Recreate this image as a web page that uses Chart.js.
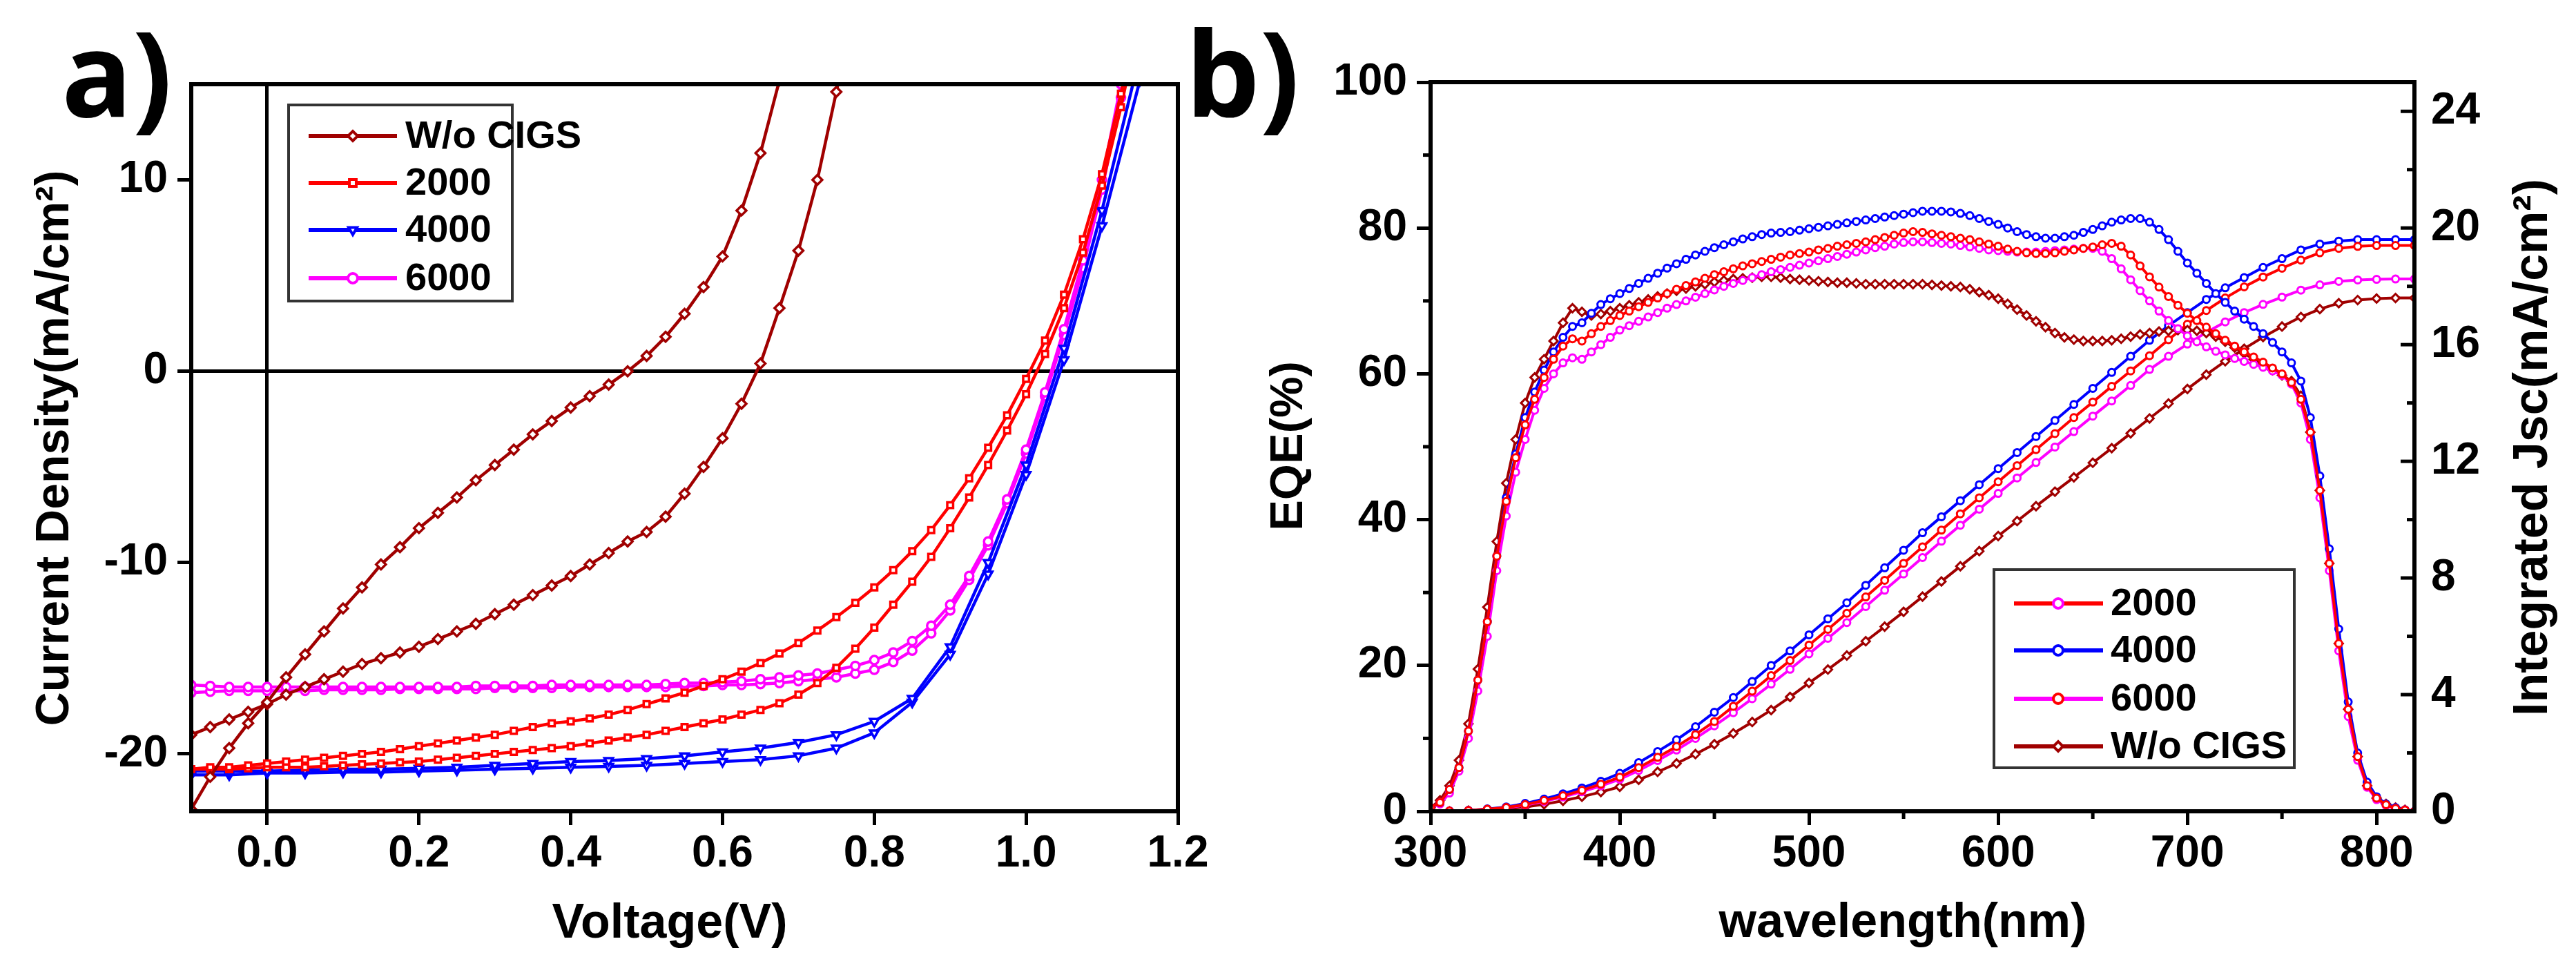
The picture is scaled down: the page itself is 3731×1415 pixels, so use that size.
<!DOCTYPE html>
<html>
<head>
<meta charset="utf-8">
<script src="https://cdn.jsdelivr.net/npm/chart.js@4.4.1/dist/chart.umd.min.js"></script>
<style>
  html, body { margin: 0; padding: 0; background: #fff; }
  #wrap { position: relative; width: 3731px; height: 1415px; overflow: hidden; background: #fff; }
  #chartA { position: absolute; left: 0; top: 0; }
  #chartB { position: absolute; left: 1700px; top: 0; }
</style>
</head>
<body>
<div id="wrap">
  <canvas id="chartA" width="1800" height="1415"></canvas>
  <canvas id="chartB" width="2031" height="1415"></canvas>
</div>
<script>
// ---------- a) J-V curves ----------
const vFine = [-0.1, -0.075, -0.05, -0.025, 0, 0.025, 0.05, 0.075, 0.1, 0.125, 0.15, 0.175, 0.2, 0.225, 0.25, 0.275,
  0.3, 0.325, 0.35, 0.375, 0.4, 0.425, 0.45, 0.475, 0.5, 0.525, 0.55, 0.575, 0.6, 0.625, 0.65, 0.675, 0.7, 0.725,
  0.75, 0.775, 0.8, 0.825, 0.85, 0.875, 0.9, 0.925, 0.95, 0.975, 1.0, 1.025, 1.05, 1.075, 1.1, 1.125, 1.15];
const vCoarse = [-0.1, -0.05, 0, 0.05, 0.1, 0.15, 0.2, 0.25, 0.3, 0.35, 0.4, 0.45, 0.5, 0.55, 0.6, 0.65, 0.7,
  0.75, 0.8, 0.85, 0.9, 0.95, 1.0, 1.05, 1.1, 1.15];

const jWoA = [-22.9, -21.2, -19.7, -18.4, -17.3, -16.0, -14.8, -13.6, -12.4, -11.3, -10.1, -9.2, -8.2, -7.4, -6.6, -5.7,
  -4.9, -4.1, -3.3, -2.6, -1.9, -1.3, -0.7, 0.0, 0.8, 1.8, 3.0, 4.4, 6.0, 8.4, 11.4, 15.2];
const jWoB = [-19.0, -18.6, -18.2, -17.8, -17.4, -16.9, -16.5, -16.1, -15.7, -15.3, -15.0, -14.7, -14.4, -14.0, -13.6, -13.2,
  -12.7, -12.2, -11.7, -11.2, -10.7, -10.1, -9.5, -8.9, -8.4, -7.6, -6.4, -5.0, -3.5, -1.7, 0.4, 3.3, 6.3, 10.0, 14.6, 19.5];
const j2000A = [-20.8, -20.7, -20.7, -20.6, -20.5, -20.4, -20.3, -20.2, -20.1, -20.0, -19.9, -19.75, -19.6, -19.45, -19.3, -19.15,
  -19.0, -18.8, -18.6, -18.4, -18.3, -18.15, -17.95, -17.7, -17.4, -17.1, -16.8, -16.45, -16.1, -15.7, -15.25, -14.75,
  -14.2, -13.55, -12.85, -12.1, -11.3, -10.4, -9.4, -8.3, -7.0, -5.6, -4.0, -2.3, -0.4, 1.6, 4.0, 6.9, 10.3, 14.5, 19.5];
const j2000B = [-20.8, -20.8, -20.8, -20.75, -20.7, -20.7, -20.7, -20.65, -20.6, -20.55, -20.5, -20.45, -20.4, -20.3, -20.2, -20.1,
  -20.0, -19.9, -19.8, -19.7, -19.6, -19.45, -19.3, -19.15, -19.0, -18.8, -18.6, -18.4, -18.2, -17.95, -17.7, -17.35,
  -16.9, -16.3, -15.5, -14.5, -13.4, -12.2, -11.0, -9.7, -8.2, -6.6, -4.9, -3.1, -1.2, 0.9, 3.3, 6.2, 9.7, 13.8, 18.5];
const j4000A = [-20.9, -20.9, -20.9, -20.85, -20.8, -20.8, -20.75, -20.7, -20.6, -20.5, -20.4, -20.35, -20.25, -20.1, -19.9,
  -19.7, -19.4, -19.0, -18.3, -17.1, -14.4, -10.0, -4.9, 1.2, 8.4, 16.5];
const j4000B = [-21.1, -21.1, -21.0, -21.0, -20.95, -20.95, -20.9, -20.85, -20.8, -20.75, -20.7, -20.65, -20.6, -20.5, -20.4,
  -20.3, -20.1, -19.7, -18.9, -17.3, -14.8, -10.6, -5.4, 0.6, 7.6, 15.2];
const j6000A = [-16.4, -16.45, -16.5, -16.5, -16.5, -16.5, -16.5, -16.5, -16.5, -16.5, -16.5, -16.5, -16.5, -16.5, -16.5, -16.45,
  -16.45, -16.45, -16.45, -16.4, -16.4, -16.4, -16.4, -16.4, -16.4, -16.35, -16.3, -16.3, -16.25, -16.2, -16.1, -16.0,
  -15.9, -15.8, -15.6, -15.4, -15.1, -14.7, -14.1, -13.3, -12.2, -10.7, -8.9, -6.7, -4.1, -1.1, 2.2, 5.8, 10.0, 15.0, 20.5];
const j6000B = [-16.8, -16.75, -16.7, -16.7, -16.7, -16.7, -16.7, -16.65, -16.65, -16.65, -16.65, -16.6, -16.6, -16.6, -16.6, -16.6,
  -16.55, -16.55, -16.55, -16.55, -16.5, -16.5, -16.5, -16.5, -16.5, -16.5, -16.45, -16.45, -16.4, -16.4, -16.35, -16.3,
  -16.2, -16.1, -16.0, -15.8, -15.6, -15.2, -14.6, -13.7, -12.5, -10.9, -9.1, -6.9, -4.3, -1.3, 1.9, 5.4, 9.5, 14.3, 19.8];

const vTicks = [0, 0.2, 0.4, 0.6, 0.8, 1.0, 1.2];
const jTicks = [-20, -10, 0, 10];

// ---------- b) EQE + integrated Jsc ----------
const wl5 = [300, 305, 310, 315, 320, 325, 330, 335, 340, 345, 350, 355, 360, 365, 370, 375, 380, 385, 390, 395,
  400, 405, 410, 415, 420, 425, 430, 435, 440, 445, 450, 455, 460, 465, 470, 475, 480, 485, 490, 495,
  500, 505, 510, 515, 520, 525, 530, 535, 540, 545, 550, 555, 560, 565, 570, 575, 580, 585, 590, 595,
  600, 605, 610, 615, 620, 625, 630, 635, 640, 645, 650, 655, 660, 665, 670, 675, 680, 685, 690, 695,
  700, 705, 710, 715, 720, 725, 730, 735, 740, 745, 750, 755, 760, 765, 770, 775, 780, 785, 790, 795,
  800, 805, 810, 815, 820];
const wl10 = [300, 310, 320, 330, 340, 350, 360, 370, 380, 390, 400, 410, 420, 430, 440, 450, 460, 470, 480, 490,
  500, 510, 520, 530, 540, 550, 560, 570, 580, 590, 600, 610, 620, 630, 640, 650, 660, 670, 680, 690,
  700, 710, 720, 730, 740, 750, 760, 770, 780, 790, 800, 810, 820];

const eqe2000 = [0.5, 1.2, 3, 6, 11, 18, 26, 35, 42.5, 48.5, 53, 56.5, 59.5, 62, 63.8, 64.8, 64.5, 65.5, 66.5, 67.3,
  68, 68.6, 69.2, 69.8, 70.4, 71.0, 71.6, 72.1, 72.6, 73.1, 73.6, 74.0, 74.4, 74.8, 75.1, 75.4, 75.7, 76.0, 76.3, 76.5,
  76.7, 77.0, 77.2, 77.5, 77.7, 77.9, 78.1, 78.4, 78.7, 79.0, 79.3, 79.5, 79.4, 79.2, 79.0, 78.8, 78.6, 78.4, 78.1, 77.8,
  77.5, 77.1, 76.8, 76.6, 76.5, 76.5, 76.6, 76.8, 77.0, 77.2, 77.4, 77.7, 77.9, 77.5, 76.3, 74.8, 73.3, 71.9, 70.6, 69.4,
  68.3, 67.3, 66.4, 65.5, 64.6, 63.8, 63.0, 62.3, 61.6, 60.8, 60.0, 58.8, 56.5, 52, 44, 34, 23, 14, 7.5, 3.5,
  1.8, 0.9, 0.4, 0.2, 0];
const eqe4000 = [0.5, 1.2, 3, 6, 11, 18, 26, 35, 43, 49, 54, 57.5, 60.5, 63, 65, 66.5, 67, 68.3, 69.5, 70.3,
  71, 71.7, 72.4, 73.1, 73.8, 74.5, 75.1, 75.7, 76.3, 76.8, 77.3, 77.7, 78.1, 78.5, 78.8, 79.1, 79.3, 79.4, 79.5, 79.7,
  79.9, 80.1, 80.3, 80.5, 80.7, 80.9, 81.1, 81.3, 81.5, 81.7, 81.9, 82.1, 82.3, 82.3, 82.3, 82.2, 82.0, 81.7, 81.3, 80.9,
  80.5, 80.0, 79.5, 79.1, 78.8, 78.6, 78.6, 78.8, 79.0, 79.4, 79.8, 80.3, 80.8, 81.1, 81.3, 81.3, 80.8, 79.8, 78.4, 76.8,
  75.2, 73.8, 72.4, 71.0, 69.8, 68.6, 67.5, 66.5, 65.5, 64.3, 63.0, 61.5, 59.0, 54, 46, 36, 25, 15, 8, 4,
  2, 1, 0.5, 0.2, 0];
const eqe6000 = [0.5, 1.0, 2.5, 5.5, 10, 16.5, 24, 33, 40.5, 46.5, 51, 55, 58, 60, 61.5, 62.2, 62, 63, 64, 65,
  66, 66.6, 67.2, 67.8, 68.4, 69.0, 69.5, 70.0, 70.5, 71.0, 71.5, 72.0, 72.4, 72.8, 73.2, 73.6, 74.0, 74.3, 74.6, 74.9,
  75.2, 75.5, 75.8, 76.1, 76.4, 76.7, 77.0, 77.3, 77.5, 77.8, 78.0, 78.1, 78.1, 78.0, 77.9, 77.8, 77.6, 77.4, 77.2, 77.0,
  76.9, 76.8, 76.7, 76.7, 76.7, 76.8, 76.9, 77.0, 77.1, 77.2, 77.2, 76.8, 75.8, 74.4, 72.9, 71.4, 70.0, 68.6, 67.3, 66.2,
  65.2, 64.4, 63.7, 63.1, 62.6, 62.1, 61.7, 61.3, 60.9, 60.4, 59.8, 58.6, 56, 51, 43, 33, 22, 13, 7, 3.3,
  1.6, 0.8, 0.4, 0.2, 0];
const eqeWo = [0.5, 1.5, 3.5, 7, 12, 19.5, 28, 37, 45, 51, 56, 59.5, 62, 64.5, 67, 69, 68.5, 68, 68.2, 68.6,
  69, 69.4, 69.8, 70.2, 70.6, 71.0, 71.4, 71.7, 72.0, 72.3, 72.6, 72.8, 73.0, 73.1, 73.2, 73.3, 73.3, 73.2, 73.0, 72.9,
  72.8, 72.7, 72.6, 72.5, 72.5, 72.4, 72.3, 72.3, 72.3, 72.3, 72.3, 72.3, 72.3, 72.2, 72.1, 72.0, 71.9, 71.6, 71.2, 70.8,
  70.3, 69.6, 68.8, 68.0, 67.2, 66.4, 65.6, 65.0, 64.7, 64.5, 64.5, 64.5, 64.6, 64.8, 65.1, 65.4, 65.6, 65.8, 65.9, 66.0,
  66.0, 65.9, 65.6, 65.1, 64.4, 63.6, 62.8, 62.0, 61.2, 60.5, 59.8, 59.0, 57, 52, 44, 34, 23, 14, 7.5, 3.5,
  1.8, 1.0, 0.5, 0.2, 0];

const jsc2000 = [0, 0.01, 0.03, 0.07, 0.13, 0.23, 0.37, 0.53, 0.72, 0.93,
  1.17, 1.5, 1.85, 2.22, 2.63, 3.08, 3.6, 4.12, 4.65, 5.17,
  5.7, 6.24, 6.79, 7.35, 7.92, 8.5, 9.07, 9.64, 10.2, 10.75,
  11.3, 11.85, 12.4, 12.95, 13.5, 14.03, 14.57, 15.1, 15.62, 16.17,
  16.7, 17.17, 17.6, 17.98, 18.32, 18.62, 18.9, 19.15, 19.3, 19.37,
  19.4, 19.4, 19.4];
const jsc4000 = [0, 0.01, 0.03, 0.08, 0.15, 0.27, 0.42, 0.6, 0.8, 1.03,
  1.3, 1.67, 2.05, 2.45, 2.9, 3.4, 3.9, 4.45, 5.0, 5.5,
  6.05, 6.6, 7.15, 7.75, 8.35, 8.95, 9.55, 10.1, 10.65, 11.2,
  11.75, 12.3, 12.85, 13.4, 13.95, 14.5, 15.05, 15.6, 16.15, 16.65,
  17.1, 17.55, 17.95, 18.3, 18.65, 18.95, 19.25, 19.45, 19.55, 19.6,
  19.6, 19.6, 19.6];
const jsc6000 = [0, 0.01, 0.03, 0.06, 0.12, 0.21, 0.34, 0.49, 0.67, 0.87,
  1.1, 1.4, 1.74, 2.1, 2.5, 2.93, 3.38, 3.86, 4.36, 4.87,
  5.4, 5.93, 6.47, 7.02, 7.58, 8.14, 8.7, 9.26, 9.81, 10.36,
  10.9, 11.43, 11.96, 12.49, 13.02, 13.55, 14.07, 14.6, 15.15, 15.6,
  16.02, 16.42, 16.78, 17.1, 17.38, 17.63, 17.87, 18.05, 18.17, 18.22,
  18.24, 18.25, 18.25];
const jscWo = [0, 0, 0.02, 0.05, 0.09, 0.15, 0.24, 0.36, 0.5, 0.66,
  0.84, 1.08, 1.35, 1.64, 1.96, 2.3, 2.67, 3.06, 3.47, 3.92,
  4.4, 4.86, 5.34, 5.83, 6.33, 6.84, 7.36, 7.88, 8.4, 8.92,
  9.44, 9.95, 10.46, 10.96, 11.45, 11.95, 12.45, 12.96, 13.47, 13.98,
  14.48, 14.97, 15.43, 15.86, 16.26, 16.62, 16.95, 17.22, 17.42, 17.53,
  17.58, 17.6, 17.6];

const wlTicks = [300, 400, 500, 600, 700, 800];
const wlMinor = [350, 450, 550, 650, 750];
const eqeTicks = [0, 20, 40, 60, 80, 100];
const eqeMinor = [10, 30, 50, 70, 90];
const jscTicks = [0, 4, 8, 12, 16, 20, 24];
const jscMinor = [2, 6, 10, 14, 18, 22];

const DARKRED = '#a00000', RED = '#ff0000', BLUE = '#0000ff', MAGENTA = '#ff00ff';
const FONT = '"Liberation Sans", Arial, sans-serif';
const PANEL_FONT = 'bold 170px "Open Sans", sans-serif';
const tickFont = { family: FONT, size: 64, weight: 'bold' };

const pts = (xs, ys) => ys.map((y, i) => ({ x: xs[i], y }));

/** 枠線（プロット領域の四辺） */
const frame = {
  id: 'frame',
  afterDatasetsDraw(chart) {
    const { ctx, chartArea: a } = chart;
    ctx.save();
    ctx.strokeStyle = '#000';
    ctx.lineWidth = 6;
    ctx.strokeRect(a.left, a.top, a.right - a.left, a.bottom - a.top);
    ctx.restore();
  }
};

/** 補助目盛り・内向き目盛り */
const extraTicks = {
  id: 'extraTicks',
  afterDraw(chart, args, opts) {
    const { ctx, chartArea: a } = chart;
    ctx.save();
    ctx.strokeStyle = '#000';
    (opts.marks || []).forEach(m => {
      const s = chart.scales[m.scale];
      ctx.lineWidth = m.width;
      m.values.forEach(v => {
        const p = s.getPixelForValue(v);
        ctx.beginPath();
        if (s.isHorizontal()) { ctx.moveTo(p, a.bottom); ctx.lineTo(p, a.bottom + m.len); }
        else if (s.position === 'left') { ctx.moveTo(a.left, p); ctx.lineTo(a.left - m.len, p); }
        else { ctx.moveTo(a.right, p); ctx.lineTo(a.right - m.len, p); }
        ctx.stroke();
      });
    });
    ctx.restore();
  }
};

/** 枠付きの凡例 */
const boxLegend = {
  id: 'boxLegend',
  afterDraw(chart, args, opts) {
    if (!opts.rows) return;
    const { ctx } = chart;
    const b = opts.box;
    ctx.save();
    ctx.fillStyle = '#fff';
    ctx.fillRect(b.x, b.y, b.w, b.h);
    ctx.strokeStyle = '#333';
    ctx.lineWidth = 4;
    ctx.strokeRect(b.x, b.y, b.w, b.h);
    opts.rows.forEach(r => {
      const ds = chart.data.datasets[r.ds];
      ctx.strokeStyle = ds.borderColor;
      ctx.lineWidth = 6;
      ctx.beginPath();
      ctx.moveTo(opts.lineX[0], r.y);
      ctx.lineTo(opts.lineX[1], r.y);
      ctx.stroke();
      ctx.fillStyle = '#fff';
      ctx.strokeStyle = r.mark || ds.pointBorderColor || ds.borderColor;
      ctx.lineWidth = 4;
      Chart.helpers.drawPoint(ctx, {
        pointStyle: ds.pointStyle, rotation: ds.pointRotation || 0, radius: 7, borderWidth: 4
      }, opts.markX, r.y);
      ctx.fillStyle = '#000';
      ctx.font = opts.font;
      ctx.textBaseline = 'middle';
      ctx.textAlign = 'left';
      ctx.fillText(ds.label, opts.textX, r.y + 2);
    });
    ctx.restore();
  }
};

/** 軸タイトル・パネル記号 */
const texts = {
  id: 'texts',
  afterDraw(chart, args, opts) {
    const { ctx } = chart;
    (opts.items || []).forEach(t => {
      ctx.save();
      ctx.fillStyle = '#000';
      ctx.font = t.font;
      ctx.textAlign = t.align || 'center';
      ctx.textBaseline = t.baseline || 'middle';
      ctx.translate(t.x, t.y);
      ctx.rotate(t.rot || 0);
      ctx.fillText(t.text, 0, 0);
      ctx.restore();
    });
  }
};

const line = (label, xs, ys, color, style, extra = {}) => ({
  label,
  data: pts(xs, ys),
  borderColor: color,
  backgroundColor: color,
  borderWidth: 4.5,
  pointStyle: style,
  pointRadius: 6,
  pointBorderWidth: 3.5,
  pointBorderColor: color,
  pointBackgroundColor: '#fff',
  clip: 0,
  tension: 0,
  ...extra
});

const fixedTicks = list => s => { s.ticks = list.map(v => ({ value: v })); };

const zeroGrid = c => (c.tick && c.tick.value === 0 ? '#000' : 'rgba(0,0,0,0)');

new Chart(document.getElementById('chartA'), {
  type: 'line',
  data: {
    datasets: [
      line('W/o CIGS', vFine, jWoA, DARKRED, 'rectRot', { pointRadius: 7 }),
      line('W/o CIGS', vFine, jWoB, DARKRED, 'rectRot', { pointRadius: 7 }),
      line('2000', vFine, j2000A, RED, 'rect'),
      line('2000', vFine, j2000B, RED, 'rect'),
      line('4000', vCoarse, j4000A, BLUE, 'triangle', { pointRotation: 180, pointRadius: 7 }),
      line('4000', vCoarse, j4000B, BLUE, 'triangle', { pointRotation: 180, pointRadius: 7 }),
      line('6000', vFine, j6000A, MAGENTA, 'circle'),
      line('6000', vFine, j6000B, MAGENTA, 'circle')
    ]
  },
  options: {
    responsive: false,
    animation: false,
    devicePixelRatio: 1,
    layout: { padding: { left: 0, top: 122, right: 94, bottom: 0 } },
    scales: {
      x: {
        type: 'linear', min: -0.1, max: 1.2,
        afterBuildTicks: fixedTicks(vTicks),
        afterFit: s => { s.height = 240; },
        ticks: { callback: v => Number(v).toFixed(1), font: tickFont, color: '#000', padding: 4, maxRotation: 0, autoSkip: false },
        grid: { color: zeroGrid, lineWidth: 5, tickColor: '#000', tickLength: 20, tickWidth: 5 },
        border: { display: false }
      },
      y: {
        type: 'linear', min: -23, max: 15,
        afterBuildTicks: fixedTicks(jTicks),
        afterFit: s => { s.width = 277; },
        ticks: { callback: v => String(v), font: tickFont, color: '#000', padding: 14, autoSkip: false },
        grid: { color: zeroGrid, lineWidth: 5, tickColor: '#000', tickLength: 20, tickWidth: 5 },
        border: { display: false }
      }
    },
    plugins: {
      legend: { display: false },
      tooltip: { enabled: false },
      boxLegend: {
        box: { x: 418, y: 152, w: 324, h: 284 },
        lineX: [447, 575], markX: 511, textX: 587,
        font: `bold 56px ${FONT}`,
        rows: [{ ds: 0, y: 197 }, { ds: 2, y: 265 }, { ds: 4, y: 333 }, { ds: 6, y: 403 }]
      },
      texts: {
        items: [
          { text: 'Current Density(mA/cm²)', x: 80, y: 649, rot: -Math.PI / 2, font: `bold 68px ${FONT}` },
          { text: 'Voltage(V)', x: 970, y: 1339, font: `bold 70px ${FONT}` },
          { text: 'a)', x: 89, y: 169, align: 'left', baseline: 'alphabetic', font: PANEL_FONT }
        ]
      }
    }
  },
  plugins: [frame, extraTicks, boxLegend, texts]
});

const eqeStyle = { yAxisID: 'y', borderWidth: 4, pointRadius: 5, pointBorderWidth: 3 };
const jscStyle = { yAxisID: 'y1', borderWidth: 4, pointRadius: 5, pointBorderWidth: 3 };

new Chart(document.getElementById('chartB'), {
  type: 'line',
  data: {
    datasets: [
      line('2000', wl5, eqe2000, RED, 'circle', eqeStyle),
      line('4000', wl5, eqe4000, BLUE, 'circle', eqeStyle),
      line('6000', wl5, eqe6000, MAGENTA, 'circle', eqeStyle),
      line('W/o CIGS', wl5, eqeWo, DARKRED, 'rectRot', { ...eqeStyle, pointRadius: 6 }),
      line('2000', wl10, jsc2000, RED, 'circle', jscStyle),
      line('4000', wl10, jsc4000, BLUE, 'circle', jscStyle),
      line('6000', wl10, jsc6000, MAGENTA, 'circle', jscStyle),
      line('W/o CIGS', wl10, jscWo, DARKRED, 'rectRot', { ...jscStyle, pointRadius: 6 })
    ]
  },
  options: {
    responsive: false,
    animation: false,
    devicePixelRatio: 1,
    layout: { padding: { left: 0, top: 119, right: 0, bottom: 0 } },
    scales: {
      x: {
        type: 'linear', min: 300, max: 820,
        afterBuildTicks: fixedTicks(wlTicks),
        afterFit: s => { s.height = 240; },
        ticks: { font: tickFont, color: '#000', padding: 4, maxRotation: 0, autoSkip: false },
        grid: { drawOnChartArea: false, tickColor: '#000', tickLength: 20, tickWidth: 5 },
        border: { display: false }
      },
      y: {
        type: 'linear', position: 'left', min: 0, max: 100,
        afterBuildTicks: fixedTicks(eqeTicks),
        afterFit: s => { s.width = 372; },
        ticks: { font: tickFont, color: '#000', padding: 14, autoSkip: false },
        grid: { drawOnChartArea: false, tickColor: '#000', tickLength: 20, tickWidth: 5 },
        border: { display: false }
      },
      y1: {
        type: 'linear', position: 'right', min: 0, max: 25,
        afterBuildTicks: fixedTicks(jscTicks),
        afterFit: s => { s.width = 234; },
        ticks: { font: tickFont, color: '#000', padding: 24, autoSkip: false },
        grid: { drawOnChartArea: false, drawTicks: false },
        border: { display: false }
      }
    },
    plugins: {
      legend: { display: false },
      tooltip: { enabled: false },
      extraTicks: {
        marks: [
          { scale: 'x', values: wlMinor, len: 11, width: 5 },
          { scale: 'y', values: eqeMinor, len: 11, width: 5 },
          { scale: 'y1', values: jscTicks, len: 20, width: 5 },
          { scale: 'y1', values: jscMinor, len: 11, width: 5 }
        ]
      },
      boxLegend: {
        box: { x: 1188, y: 825, w: 435, h: 287 },
        lineX: [1217, 1346], markX: 1281, textX: 1357,
        font: `bold 56px ${FONT}`,
        rows: [
          { ds: 0, y: 874, mark: MAGENTA },
          { ds: 1, y: 942 },
          { ds: 2, y: 1012, mark: RED },
          { ds: 3, y: 1081 }
        ]
      },
      texts: {
        items: [
          { text: 'EQE(%)', x: 168, y: 646, rot: -Math.PI / 2, font: `bold 67px ${FONT}` },
          { text: 'Integrated Jsc(mA/cm²)', x: 1970, y: 648, rot: -Math.PI / 2, font: `bold 70px ${FONT}` },
          { text: 'wavelength(nm)', x: 1056, y: 1338, font: `bold 70px ${FONT}` },
          { text: 'b)', x: 17, y: 169, align: 'left', baseline: 'alphabetic', font: PANEL_FONT }
        ]
      }
    }
  },
  plugins: [frame, extraTicks, boxLegend, texts]
});
</script>
</body>
</html>
